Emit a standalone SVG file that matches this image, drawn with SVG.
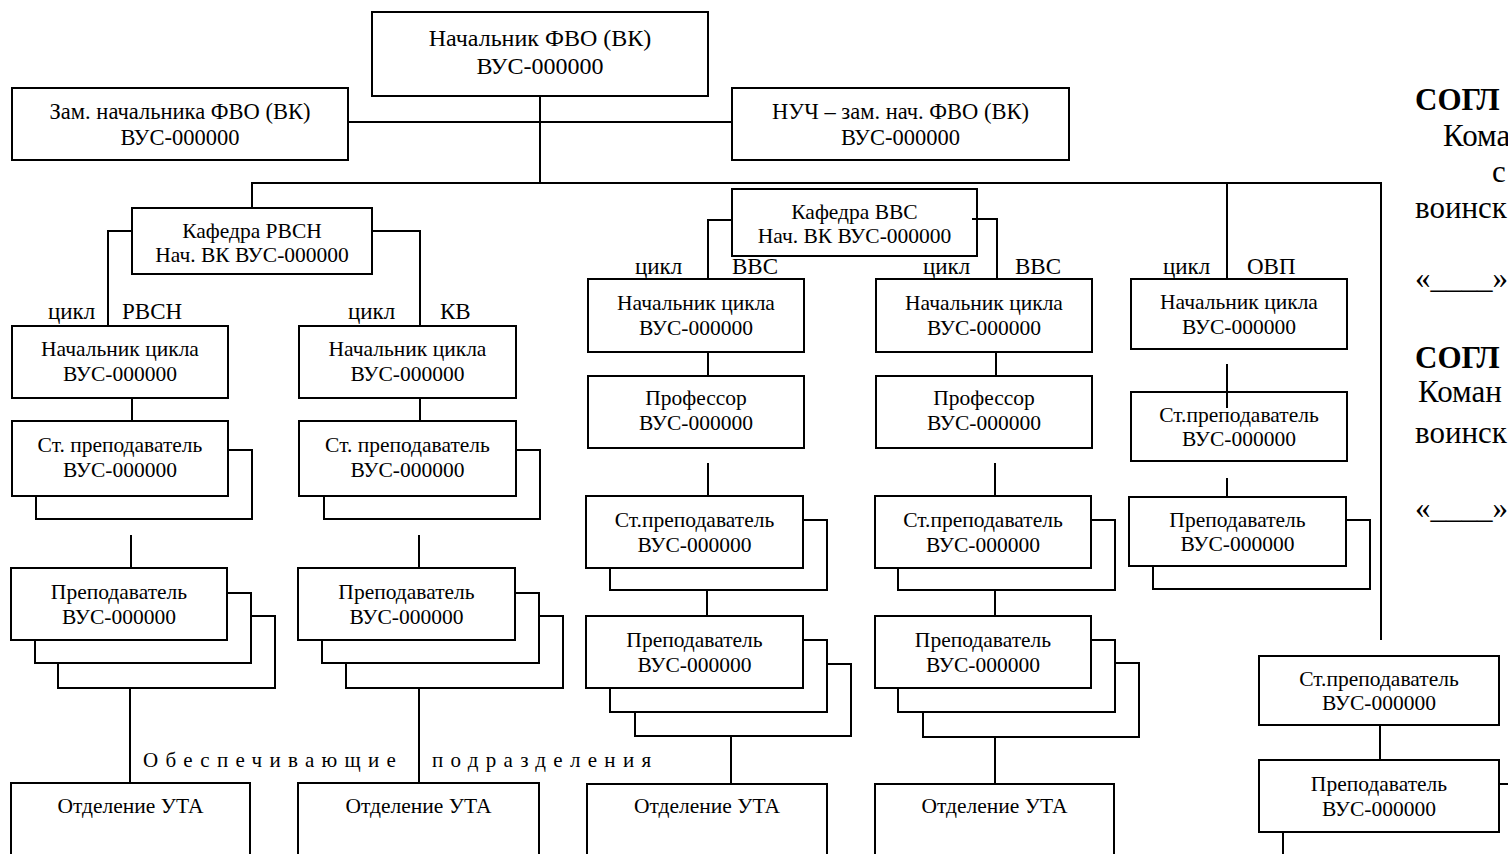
<svg xmlns="http://www.w3.org/2000/svg" width="1508" height="854" viewBox="0 0 1508 854">
<style>
rect{fill:#fff;stroke:#000;stroke-width:2}
text{font-family:"Liberation Serif","Times New Roman",serif;fill:#000}
.t{font-size:21.5px;text-anchor:middle}
.tt{font-size:24px;text-anchor:middle}
.tz{font-size:22.5px;text-anchor:middle}
.lb{font-size:23px}
.ob{font-size:21px;letter-spacing:7.3px}
.side{font-size:31px}
.b{font-weight:bold}
#conn path{fill:none;stroke:#000;stroke-width:2}
</style>
<rect x="0" y="0" width="1508" height="854" style="fill:#fff;stroke:none"/>

<g id="n_head"><rect x="372" y="12" width="336" height="84"/><text class="tt" x="540" y="46">Начальник ФВО (ВК)</text><text class="tt" x="540" y="74">ВУС-000000</text></g>
<g id="n_zam"><rect x="12" y="88" width="336" height="72"/><text class="tz" x="180" y="119">Зам. начальника ФВО (ВК)</text><text class="tz" x="180" y="145">ВУС-000000</text></g>
<g id="n_nuch"><rect x="732" y="88" width="337" height="72"/><text class="tz" x="900.5" y="119">НУЧ – зам. нач. ФВО (ВК)</text><text class="tz" x="900.5" y="145">ВУС-000000</text></g>

<g id="n_kaf_rvsn"><rect x="132" y="208" width="240" height="66"/><text class="t" x="252" y="238">Кафедра РВСН</text><text class="t" x="252" y="262">Нач. ВК ВУС-000000</text></g>
<g id="n_kaf_vvs"><rect x="732" y="189" width="245" height="67"/><text class="t" x="854.5" y="219">Кафедра ВВС</text><text class="t" x="854.5" y="243">Нач. ВК ВУС-000000</text></g>

<g id="lbl_rvsn"><text class="lb" x="48" y="319">цикл</text><text class="lb" x="122" y="319">РВСН</text></g>
<g id="lbl_kv"><text class="lb" x="348" y="319">цикл</text><text class="lb" x="440" y="319">КВ</text></g>
<g id="lbl_vvs1"><text class="lb" x="635" y="274">цикл</text><text class="lb" x="732" y="274">ВВС</text></g>
<g id="lbl_vvs2"><text class="lb" x="923" y="274">цикл</text><text class="lb" x="1015" y="274">ВВС</text></g>
<g id="lbl_ovp"><text class="lb" x="1163" y="274">цикл</text><text class="lb" x="1247" y="274">ОВП</text></g>

<g id="n_rvsn_head"><rect x="12" y="326" width="216" height="72"/><text class="t" x="120" y="356">Начальник цикла</text><text class="t" x="120" y="381">ВУС-000000</text></g>
<g id="n_rvsn_st"><rect x="36" y="450" width="216" height="69"/><rect x="12" y="421" width="216" height="75"/><text class="t" x="120" y="452">Ст. преподаватель</text><text class="t" x="120" y="477">ВУС-000000</text></g>
<g id="n_rvsn_prep"><rect x="58" y="616" width="217" height="72"/><rect x="35" y="593" width="216" height="70"/><rect x="11" y="568" width="216" height="72"/><text class="t" x="119" y="599">Преподаватель</text><text class="t" x="119" y="624">ВУС-000000</text></g>

<g id="n_kv_head"><rect x="299" y="326" width="217" height="72"/><text class="t" x="407.5" y="356">Начальник цикла</text><text class="t" x="407.5" y="381">ВУС-000000</text></g>
<g id="n_kv_st"><rect x="324" y="450" width="216" height="69"/><rect x="299" y="421" width="217" height="75"/><text class="t" x="407.5" y="452">Ст. преподаватель</text><text class="t" x="407.5" y="477">ВУС-000000</text></g>
<g id="n_kv_prep"><rect x="346" y="616" width="217" height="72"/><rect x="322" y="593" width="217" height="70"/><rect x="298" y="568" width="217" height="72"/><text class="t" x="406.5" y="599">Преподаватель</text><text class="t" x="406.5" y="624">ВУС-000000</text></g>

<g id="n_vvs1_head"><rect x="588" y="279" width="216" height="73"/><text class="t" x="696" y="310">Начальник цикла</text><text class="t" x="696" y="335">ВУС-000000</text></g>
<g id="n_vvs1_prof"><rect x="588" y="376" width="216" height="72"/><text class="t" x="696" y="405">Профессор</text><text class="t" x="696" y="430">ВУС-000000</text></g>
<g id="n_vvs1_st"><rect x="610" y="520" width="217" height="70"/><rect x="586" y="496" width="217" height="72"/><text class="t" x="694.5" y="527">Ст.преподаватель</text><text class="t" x="694.5" y="552">ВУС-000000</text></g>
<g id="n_vvs1_prep"><rect x="635" y="664" width="216" height="72"/><rect x="610" y="640" width="217" height="72"/><rect x="586" y="616" width="217" height="72"/><text class="t" x="694.5" y="647">Преподаватель</text><text class="t" x="694.5" y="672">ВУС-000000</text></g>

<g id="n_vvs2_head"><rect x="876" y="279" width="216" height="73"/><text class="t" x="984" y="310">Начальник цикла</text><text class="t" x="984" y="335">ВУС-000000</text></g>
<g id="n_vvs2_prof"><rect x="876" y="376" width="216" height="72"/><text class="t" x="984" y="405">Профессор</text><text class="t" x="984" y="430">ВУС-000000</text></g>
<g id="n_vvs2_st"><rect x="898" y="520" width="217" height="70"/><rect x="875" y="496" width="216" height="72"/><text class="t" x="983" y="527">Ст.преподаватель</text><text class="t" x="983" y="552">ВУС-000000</text></g>
<g id="n_vvs2_prep"><rect x="923" y="663" width="216" height="74"/><rect x="898" y="640" width="217" height="72"/><rect x="875" y="616" width="216" height="72"/><text class="t" x="983" y="647">Преподаватель</text><text class="t" x="983" y="672">ВУС-000000</text></g>

<g id="n_ovp_head"><rect x="1131" y="279" width="216" height="70"/><text class="t" x="1239" y="309">Начальник цикла</text><text class="t" x="1239" y="334">ВУС-000000</text></g>
<g id="n_ovp_st"><rect x="1131" y="392" width="216" height="69"/><text class="t" x="1239" y="422">Ст.преподаватель</text><text class="t" x="1239" y="446">ВУС-000000</text></g>
<g id="n_ovp_prep"><rect x="1153" y="520" width="217" height="69"/><rect x="1129" y="497" width="217" height="69"/><text class="t" x="1237.5" y="527">Преподаватель</text><text class="t" x="1237.5" y="551">ВУС-000000</text></g>

<g id="n_right_st"><rect x="1259" y="656" width="240" height="69"/><text class="t" x="1379" y="686">Ст.преподаватель</text><text class="t" x="1379" y="710">ВУС-000000</text></g>
<g id="n_right_prep"><rect x="1259" y="760" width="240" height="72"/><text class="t" x="1379" y="791">Преподаватель</text><text class="t" x="1379" y="816">ВУС-000000</text></g>

<g id="n_uta1"><rect x="11" y="783" width="239" height="90"/><text class="t" x="130.5" y="813">Отделение УТА</text></g>
<g id="n_uta2"><rect x="298" y="783" width="241" height="90"/><text class="t" x="418.5" y="813">Отделение УТА</text></g>
<g id="n_uta3"><rect x="587" y="784" width="240" height="90"/><text class="t" x="707" y="813">Отделение УТА</text></g>
<g id="n_uta4"><rect x="875" y="784" width="239" height="90"/><text class="t" x="994.5" y="813">Отделение УТА</text></g>

<g id="lbl_support"><text class="ob" y="767"><tspan x="143">Обеспечивающие</tspan><tspan x="432">подразделения</tspan></text></g>

<g id="conn">
<path d="M540 96V183"/>
<path d="M348 122H732"/>
<path d="M252 208V183H1381V640"/>
<path d="M1227 183V279"/>
<path d="M132 231H108V326"/>
<path d="M372 231H420V326"/>
<path d="M732 220H708V279"/>
<path d="M972 219H997V279"/>
<path d="M132 398V421"/>
<path d="M420 398V421"/>
<path d="M131 535V568"/>
<path d="M419 535V568"/>
<path d="M130 688V783"/>
<path d="M419 688V783"/>
<path d="M708 352V376"/>
<path d="M708 463V496"/>
<path d="M707 590V616"/>
<path d="M731 736V784"/>
<path d="M996 352V376"/>
<path d="M995 463V496"/>
<path d="M995 590V616"/>
<path d="M995 737V784"/>
<path d="M1227 364V408"/>
<path d="M1227 478V497"/>
<path d="M1380 725V760"/>
<path d="M1499 784H1508"/>
<path d="M1283 832V854"/>
</g>

<g id="approval">
<text class="side b" x="1415" y="110">СОГЛ</text>
<text class="side" x="1443" y="146">Кома</text>
<text class="side" x="1492" y="182">с</text>
<text class="side" x="1415" y="218">воинск</text>
<text class="side" x="1415" y="288">«____»</text>
<text class="side b" x="1415" y="368">СОГЛ</text>
<text class="side" x="1418" y="402">Коман</text>
<text class="side" x="1415" y="443">воинск</text>
<text class="side" x="1415" y="518">«____»</text>
</g>
</svg>
